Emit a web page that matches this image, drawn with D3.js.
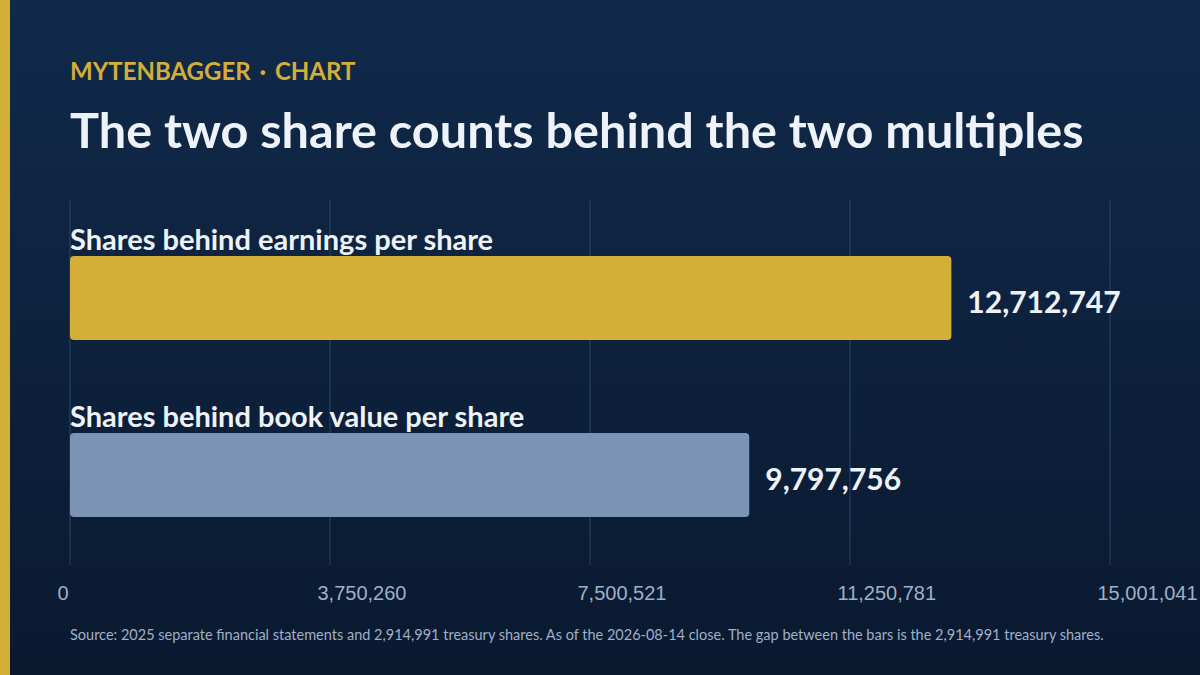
<!DOCTYPE html>
<html>
<head>
<meta charset="utf-8">
<script src="https://cdn.jsdelivr.net/npm/d3@7"></script>
<style>
  html, body { margin: 0; padding: 0; background: #0b1c33; }
  svg { display: block; font-family: "Source Sans Pro", Lato, "Noto Sans", sans-serif; }
</style>
</head>
<body>
<div id="chart"></div>
<script>
// chart data
var categories = ["Shares behind earnings per share", "Shares behind book value per share"];
var values = [12712747, 9797756];
var barColors = ["#d4af37", "#7b93b5"];
var tickValues = [0, 3750260, 7500521, 11250781, 15001041];

var W = 1200, H = 675;

var svg = d3.select("#chart").append("svg")
    .attr("width", W)
    .attr("height", H);

// background gradient
var defs = svg.append("defs");
var grad = defs.append("linearGradient")
    .attr("id", "bg")
    .attr("x1", 0).attr("y1", 0).attr("x2", 0).attr("y2", 1);
grad.append("stop").attr("offset", "0%").attr("stop-color", "#102a4a");
grad.append("stop").attr("offset", "100%").attr("stop-color", "#0a1930");

svg.append("rect").attr("width", W).attr("height", H).attr("fill", "url(#bg)");
svg.append("rect").attr("width", 10).attr("height", H).attr("fill", "#d4af37");

// header
svg.append("text")
    .attr("x", 70).attr("y", 80)
    .attr("fill", "#d4af37")
    .attr("font-size", 24).attr("font-weight", 700)
    .attr("word-spacing", 3)
    .text("MYTENBAGGER \u00b7 CHART");

svg.append("text")
    .attr("x", 70).attr("y", 148)
    .attr("fill", "#eef2fa")
    .attr("font-size", 48.6).attr("font-weight", 700)
    .text("The two share counts behind the two multiples");

// scales
var x = d3.scaleLinear()
    .domain([0, tickValues[tickValues.length - 1]])
    .range([70, 1110]);

var y = d3.scaleBand()
    .domain(categories)
    .range([256, 517])
    .paddingInner(0.525)
    .paddingOuter(0);

// gridlines
svg.append("g").selectAll("line")
    .data(tickValues)
  .enter().append("line")
    .attr("x1", d => x(d)).attr("x2", d => x(d))
    .attr("y1", 200).attr("y2", 565)
    .attr("stroke", "#2b4668")
    .attr("stroke-width", 1);

// axis labels
var fmt = d3.format(",");
var axis = svg.append("g")
    .attr("transform", "translate(0,600)")
    .call(d3.axisBottom(x).tickValues(tickValues).tickFormat(fmt).tickSize(0));
axis.select(".domain").remove();
axis.selectAll("text")
    .attr("y", 0).attr("dy", 0)
    .attr("dx", -13)
    .attr("text-anchor", "start")
    .attr("fill", "#9fb0c8")
    .attr("font-size", 20)
    .attr("font-family", null);

// bars
var rows = svg.append("g").selectAll("g")
    .data(categories)
  .enter().append("g");

rows.append("rect")
    .attr("x", x(0))
    .attr("y", d => y(d))
    .attr("width", (d, i) => x(values[i]) - x(0))
    .attr("height", y.bandwidth())
    .attr("rx", 4)
    .attr("fill", (d, i) => barColors[i]);

rows.append("text")
    .attr("x", x(0))
    .attr("y", d => y(d) - 6)
    .attr("fill", "#eef2fa")
    .attr("font-size", 29).attr("font-weight", 700)
    .text(d => d);

rows.append("text")
    .attr("x", (d, i) => x(values[i]) + 16)
    .attr("y", d => y(d) + y.bandwidth() / 2)
    .attr("dy", "0.5em")
    .attr("fill", "#eef2fa")
    .attr("font-size", 30).attr("font-weight", 700)
    .text((d, i) => fmt(values[i]));

// footnote
svg.append("text")
    .attr("x", 70).attr("y", 640)
    .attr("fill", "#9fb0c8")
    .attr("font-size", 14.5)
    .text("Source: 2025 separate financial statements and 2,914,991 treasury shares. As of the 2026-08-14 close. The gap between the bars is the 2,914,991 treasury shares.");
</script>
</body>
</html>
